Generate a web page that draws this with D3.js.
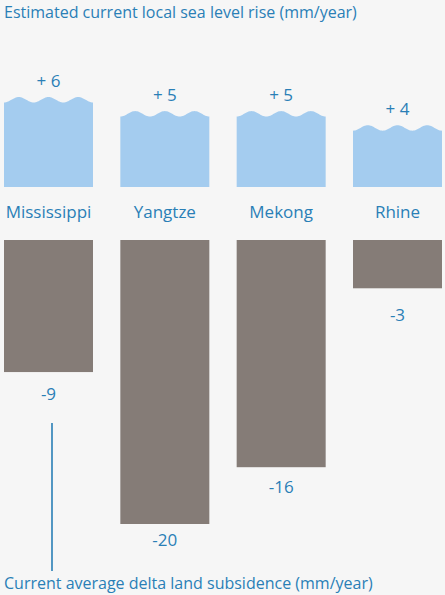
<!DOCTYPE html>
<html><head><meta charset="utf-8">
<script src="https://cdn.jsdelivr.net/npm/d3@7"></script>
<style>body{margin:0;background:#f6f6f6}svg{display:block}</style></head>
<body><svg id="chart" width="445" height="595"></svg>
<script>
// ---- data ----
const deltas = ["Mississippi", "Yangtze", "Mekong", "Rhine"];
const seaLevelRise = [6, 5, 5, 4];                 // mm/year
const seaLevelLabels = ["+ 6", "+ 5", "+ 5", "+ 4"];
const subsidence = [-9.3, -20, -16, -3.4];         // mm/year (bar lengths as drawn)
const subsidenceLabels = ["-9", "-20", "-16", "-3"];
const topTitle = "Estimated current local sea level rise (mm/year)";
const bottomTitle = "Current average delta land subsidence (mm/year)";

// ---- style ----
const textBlue = "#2a7fb6";
const waterBlue = "#a4ccef";
const landGrey = "#857c77";
const font = "'Open Sans', sans-serif";

const svg = d3.select("#chart");

const x = d3.scaleBand().domain(deltas).range([4, 442]).paddingInner(0.235).paddingOuter(0);
const yUp = d3.scaleLinear().domain([0, 6]).range([187, 102.5]);
const yDown = d3.scaleLinear().domain([0, -20]).range([240, 524]);
const yDownLabel = d3.scaleLinear().domain([0, -20]).range([281, 546]);

// titles
svg.append("text").attr("x", 4).attr("y", 18)
  .attr("fill", textBlue).style("font-family", font).style("font-size", "16px").text(topTitle);
svg.append("text").attr("x", 4).attr("y", 589)
  .attr("fill", textBlue).style("font-family", font).style("font-size", "16px").text(bottomTitle);

// wave-topped water bars
const amp = 5.5, periods = 3;
function waterPath(d, i) {
  const x0 = x(d), w = x.bandwidth();
  const top = yUp(seaLevelRise[i]), base = yUp(0);
  const pts = [];
  const n = 90;
  for (let k = 0; k <= n; k++) {
    const t = k / n;
    const px = x0 + t * w;
    const py = top - amp * (1 - Math.cos(2 * Math.PI * periods * t)) / 2;
    pts.push([px, py]);
  }
  pts.push([x0 + w, base], [x0, base]);
  return d3.line()(pts) + "Z";
}
svg.append("g").selectAll("path").data(deltas).join("path")
  .attr("d", waterPath).attr("fill", waterBlue);

svg.append("g").selectAll("text").data(deltas).join("text")
  .attr("x", d => x(d) + x.bandwidth() / 2)
  .attr("y", (d, i) => yUp(seaLevelRise[i]) - 15.5)
  .attr("text-anchor", "middle").attr("fill", textBlue)
  .style("font-family", font).style("font-size", "17px")
  .text((d, i) => seaLevelLabels[i]);

// category labels
svg.append("g").selectAll("text").data(deltas).join("text")
  .attr("x", d => x(d) + x.bandwidth() / 2).attr("y", 218)
  .attr("text-anchor", "middle").attr("fill", textBlue)
  .style("font-family", font).style("font-size", "17px")
  .text(d => d);

// subsidence bars
svg.append("g").selectAll("rect").data(deltas).join("rect")
  .attr("x", d => x(d)).attr("width", x.bandwidth())
  .attr("y", yDown(0)).attr("height", (d, i) => yDown(subsidence[i]) - yDown(0))
  .attr("fill", landGrey);

svg.append("g").selectAll("text").data(deltas).join("text")
  .attr("x", d => x(d) + x.bandwidth() / 2)
  .attr("y", (d, i) => yDownLabel(+subsidenceLabels[i]))
  .attr("text-anchor", "middle").attr("fill", textBlue)
  .style("font-family", font).style("font-size", "17px")
  .text((d, i) => subsidenceLabels[i]);

// leader line to bottom title
svg.append("line").attr("x1", 52).attr("x2", 52).attr("y1", 423).attr("y2", 571)
  .attr("stroke", textBlue).attr("stroke-width", 1.6);
</script></body></html>
